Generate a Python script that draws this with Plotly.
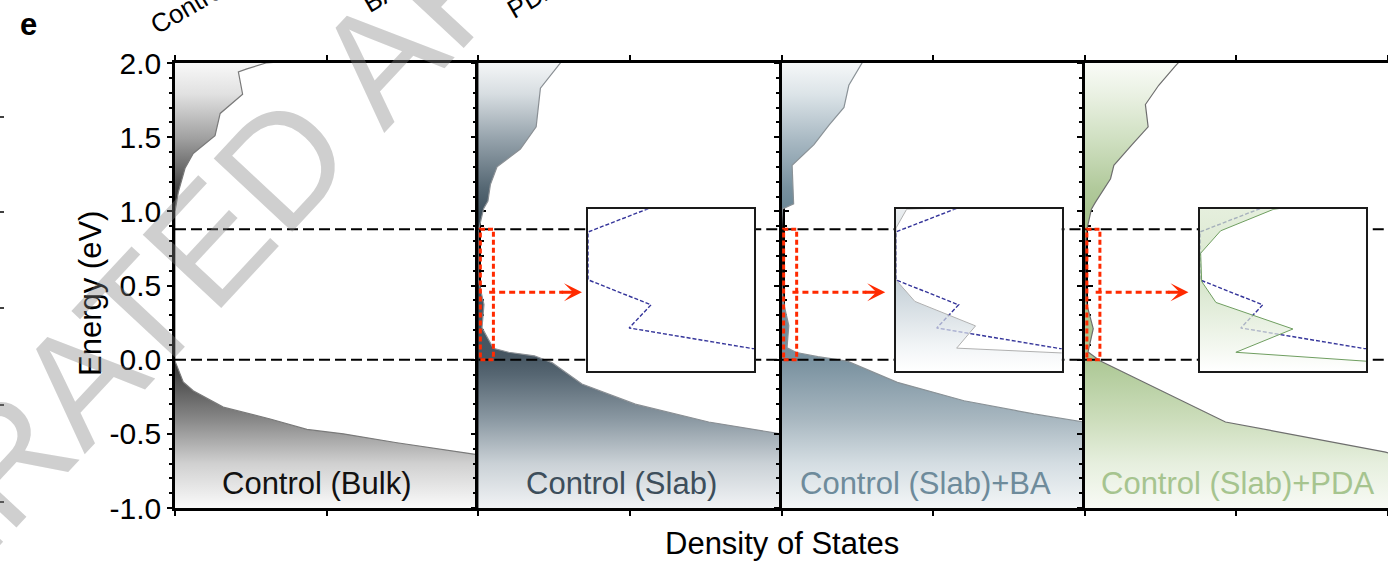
import plotly.graph_objects as go

# ---------------- data (energy in eV, DOS in arbitrary units, 10 = panel width) ----------------
E_bulk = [-1.05, -0.66, -0.64, -0.56, -0.50, -0.47, -0.40, -0.32, -0.21, -0.15, -0.04, -0.01,
          1.00, 1.13, 1.29, 1.39, 1.51, 1.66, 1.79, 1.94, 1.96, 2.00, 2.05]
dos_bulk = [13.0, 10.3, 9.96, 7.32, 5.55, 4.35, 3.14, 1.59, 0.60, 0.27, 0.06, 0.0,
            0.0, 0.11, 0.33, 0.60, 1.32, 1.49, 2.23, 2.09, 2.37, 3.0, 6.0]

E_slab = [-1.05, -0.55, -0.50, -0.42, -0.30, -0.164, -0.02, 0.026, 0.05, 0.077, 0.216, 0.372,
          0.54, 0.864, 1.02, 1.07, 1.18, 1.30, 1.42, 1.57, 1.83, 1.98, 2.05]
dos_slab = [14.0, 11.0, 9.97, 7.6, 5.18, 3.42, 2.43, 1.85, 1.0, 0.495, 0.123, 0.189,
            0.0, 0.0, 0.18, 0.32, 0.40, 0.62, 1.39, 1.91, 2.05, 2.65, 2.9]

E_ba = [-1.05, -0.50, -0.42, -0.366, -0.277, -0.153, -0.01, 0.02, 0.048, 0.08, 0.23, 0.395,
        0.54, 0.89, 1.016, 1.05, 1.31, 1.45, 1.58, 1.70, 1.85, 1.97, 2.05]
dos_ba = [15.0, 11.5, 9.97, 8.32, 6.02, 3.82, 2.17, 1.2, 0.495, 0.183, 0.24, 0.057,
          0.0, 0.0, 0.032, 0.40, 0.35, 1.07, 1.56, 2.06, 2.22, 2.55, 2.8]

E_pda = [-1.05, -0.623, -0.42, -0.008, 0.052, 0.209, 0.388, 0.53, 0.72, 0.871, 1.015,
         1.06, 1.22, 1.31, 1.45, 1.57, 1.72, 1.85, 1.98, 2.05]
dos_pda = [16.0, 9.92, 4.64, 0.5, 0.108, 0.28, 0.048, 0.005, 0.002, 0.062, 0.22,
           0.35, 0.85, 0.96, 1.56, 2.09, 2.0, 2.44, 2.99, 3.3]

panel_labels = ["Control (Bulk)", "Control (Slab)", "Control (Slab)+BA", "Control (Slab)+PDA"]
gap_levels = [0.0, 0.88]            # VBM and CBM of the bulk (dashed lines)
zoom_window = [0.0, 0.88]           # energy window magnified in the insets
y_tick_vals = [-1.0, -0.5, 0.0, 0.5, 1.0, 1.5, 2.0]
y_tick_text = ["-1.0", "-0.5", "0.0", "0.5", "1.0", "1.5", "2.0"]
top_cut_labels = ["Control", "BA", "PDA"]

# ---------------- styles ----------------
FONT = "Liberation Sans, Arial, Helvetica, sans-serif"
label_colors = ["#111111", "#3d4e5b", "#6e8b9b", "#a6c48f"]
outline_colors = ["#7a7a7a", "#8a8f94", "#8a9297", "#6e6e6e"]
scales = [
    [[0, 'rgb(250,250,250)'], [0.1, 'rgb(208,208,208)'], [0.2, 'rgb(135,135,135)'],
     [0.3, 'rgb(72,72,72)'], [0.34, 'rgb(52,52,52)'], [0.66, 'rgb(42,42,42)'],
     [0.72, 'rgb(72,72,72)'], [0.83, 'rgb(160,160,160)'], [0.93, 'rgb(225,225,225)'],
     [1, 'rgb(248,248,248)']],
    [[0, 'rgb(241,243,245)'], [0.1, 'rgb(202,209,214)'], [0.2, 'rgb(138,152,162)'],
     [0.3, 'rgb(86,102,114)'], [0.34, 'rgb(70,86,98)'], [0.66, 'rgb(62,80,93)'],
     [0.72, 'rgb(86,104,116)'], [0.83, 'rgb(150,163,172)'], [0.93, 'rgb(215,221,225)'],
     [1, 'rgb(244,246,247)']],
    [[0, 'rgb(243,246,247)'], [0.1, 'rgb(212,221,226)'], [0.2, 'rgb(168,183,192)'],
     [0.3, 'rgb(132,154,167)'], [0.34, 'rgb(118,143,157)'], [0.66, 'rgb(105,133,148)'],
     [0.72, 'rgb(120,145,159)'], [0.83, 'rgb(170,186,196)'], [0.93, 'rgb(220,228,232)'],
     [1, 'rgb(245,247,248)']],
    [[0, 'rgb(248,250,245)'], [0.1, 'rgb(230,239,222)'], [0.2, 'rgb(204,221,187)'],
     [0.3, 'rgb(180,205,158)'], [0.34, 'rgb(172,199,148)'], [0.66, 'rgb(166,194,142)'],
     [0.72, 'rgb(178,202,156)'], [0.83, 'rgb(208,224,194)'], [0.93, 'rgb(234,241,227)'],
     [1, 'rgb(249,251,247)']],
]
inset_scales = {
    2: [[0, 'rgba(255,255,255,0.7)'], [0.15, 'rgba(236,240,243,0.7)'], [0.55, 'rgba(172,188,198,0.7)'],
        [0.8, 'rgba(200,210,216,0.7)'], [1, 'rgba(226,231,234,0.7)']],
    3: [[0, 'rgba(255,255,255,0.7)'], [0.15, 'rgba(238,244,233,0.7)'], [0.55, 'rgba(198,219,182,0.7)'],
        [1, 'rgba(218,232,206,0.7)']],
}
inset_outline = {2: "#b0b0b0", 3: "#6f9e60"}
RED = "#ff2a00"
BLUE = "#34349a"

# geometry (pixels of the 1388x561 page)
W, H = 1388, 561
L, R, T, B = 175, 0, 63, 53
PW, PH = W - L - R, H - T - B
def px(x):
    return (x - L) / PW
def py(y):
    return (H - B - y) / PH

curves = [(E_bulk, dos_bulk), (E_slab, dos_slab), (E_ba, dos_ba), (E_pda, dos_pda)]
label_x = [4.67, 4.73, 4.75, 5.03]
label_y = -0.836
XMAX = 10
inset_pix = [(588.3, 754.3), (896.0, 1061.7), (1200.0, 1366.0)]
inset_ytop, inset_ybot = 209.3, 370.7
inset_range_y = [(360 - inset_ybot) / 148.3, (360 - inset_ytop) / 148.3]
INSET_XMAX = 0.5
arrow_y = 0.455
arrow_x0, arrow_x1, arrow_tip = 0.36, 2.8, 3.42
edge_tick_y = [117, 212, 308, 405, 502]   # tick stubs of the neighbouring figure at the left page edge

fig = go.Figure()
layout = dict(
    width=W, height=H, margin=dict(l=L, r=R, t=T, b=B, autoexpand=False),
    paper_bgcolor="white", plot_bgcolor="white", showlegend=False, hovermode=False,
    font=dict(family=FONT, size=30, color="black"),
)

def ax_names(i):
    s = "" if i == 0 else str(i + 1)
    return "x" + s, "y" + s, "xaxis" + s, "yaxis" + s

for i, (E, dos) in enumerate(curves):
    xa, ya, xk, yk = ax_names(i)
    fig.add_trace(go.Scatter(
        x=dos, y=E, mode="lines", fill="tozerox",
        fillgradient=dict(type="vertical", colorscale=scales[i], start=-1.0, stop=2.0),
        line=dict(color=outline_colors[i], width=1.2), xaxis=xa, yaxis=ya, hoverinfo="skip"))
    for g in gap_levels:
        fig.add_trace(go.Scatter(x=[0, XMAX], y=[g, g], mode="lines",
                                 line=dict(color="black", width=2, dash="11px,5px"),
                                 xaxis=xa, yaxis=ya, hoverinfo="skip"))
    if i > 0:
        z0, z1 = zoom_window
        fig.add_trace(go.Scatter(x=[0.07, INSET_XMAX, INSET_XMAX, 0.07, 0.07], y=[z0, z0, z1, z1, z0],
                                 mode="lines", line=dict(color=RED, width=3, dash="5px,3px"),
                                 xaxis=xa, yaxis=ya, hoverinfo="skip"))
        fig.add_trace(go.Scatter(x=[arrow_x0, arrow_x1], y=[arrow_y, arrow_y], mode="lines",
                                 line=dict(color=RED, width=3, dash="6px,4px"),
                                 xaxis=xa, yaxis=ya, hoverinfo="skip"))
    layout[xk] = dict(domain=[i * 0.25, (i + 1) * 0.25], range=[0, XMAX], anchor=ya,
                      showgrid=False, zeroline=False, showline=True, linecolor="black", linewidth=2.5,
                      mirror="ticks", ticks="outside", ticklen=5, tickwidth=2, tickcolor="black",
                      tickvals=[0, XMAX / 2, XMAX], showticklabels=False, automargin=False)
    layout[yk] = dict(domain=[0, 1], range=[-1.0, 2.0], anchor=xa, automargin=False,
                      showgrid=False, zeroline=False, showline=True, linecolor="black", linewidth=2.5,
                      mirror="ticks", ticks="outside", ticklen=5, tickwidth=2, tickcolor="black",
                      tickvals=y_tick_vals, ticktext=y_tick_text, showticklabels=(i == 0),
                      tickfont=dict(size=30, family=FONT, color="black"),
                      minor=dict(dtick=0.1, ticks="outside", ticklen=3, tickwidth=1.5, tickcolor="black",
                                 showgrid=False))

# insets (magnified gap region), using the same DOS data on a zoomed x axis
for k, (xl, xr) in enumerate(inset_pix):
    n = 5 + k
    xa, ya = "x%d" % n, "y%d" % n
    fig.add_trace(go.Scatter(x=dos_slab, y=E_slab, mode="lines",
                             line=dict(color=BLUE, width=1.4, dash="4px,2px"),
                             xaxis=xa, yaxis=ya, hoverinfo="skip"))
    if k > 0:
        E, dos = curves[k + 1]
        fig.add_trace(go.Scatter(
            x=dos, y=E, mode="lines", fill="tozerox",
            fillgradient=dict(type="vertical", colorscale=inset_scales[k + 1],
                              start=inset_range_y[0], stop=inset_range_y[1]),
            line=dict(color=inset_outline[k + 1], width=1), xaxis=xa, yaxis=ya, hoverinfo="skip"))
    layout["xaxis%d" % n] = dict(domain=[px(xl), px(xr)], range=[0, INSET_XMAX], anchor=ya,
                                 showgrid=False, zeroline=False, showline=True, mirror=True,
                                 linecolor="#1a1a1a", linewidth=1.6, ticks="", showticklabels=False)
    layout["yaxis%d" % n] = dict(domain=[py(inset_ybot), py(inset_ytop)], range=inset_range_y, anchor=xa,
                                 showgrid=False, zeroline=False, showline=True, mirror=True,
                                 linecolor="#1a1a1a", linewidth=1.6, ticks="", showticklabels=False)

C = dict(xanchor="center", yanchor="middle", showarrow=False)
annotations = []
for i in range(4):
    xa, ya, _, _ = ax_names(i)
    annotations.append(dict(text=panel_labels[i], x=label_x[i], y=label_y, xref=xa, yref=ya,
                            font=dict(size=31, color=label_colors[i], family=FONT), **C))
    if i > 0:
        annotations.append(dict(text="", x=arrow_tip, y=arrow_y, xref=xa, yref=ya,
                                ax=arrow_x1 - 0.1, ay=arrow_y, axref=xa, ayref=ya,
                                showarrow=True, arrowhead=3, arrowsize=1, arrowwidth=3,
                                arrowcolor=RED))

annotations += [
    dict(text="Energy (eV)", x=px(90), y=py(294), xref="paper", yref="paper", textangle=-90,
         font=dict(size=31, family=FONT), **C),
    dict(text="Density of States", x=0.5, y=py(543), xref="paper", yref="paper",
         font=dict(size=31, family=FONT), **C),
    dict(text="<b>e</b>", x=px(28.5), y=py(25), xref="paper", yref="paper",
         font=dict(size=31, family=FONT), **C),
]
# fragments of the neighbouring panel's rotated tick labels (cut by the page edge)
for txt, (cx, cy) in zip(top_cut_labels, [(189, 6), (380, -3), (533, -2)]):
    annotations.append(dict(text=txt, x=px(cx), y=py(cy), xref="paper", yref="paper",
                            textangle=-30, font=dict(size=26, family=FONT), **C))
# preview watermark
annotations.append(dict(text="ACCELERATED ARTICLE PREVIEW", x=px(427), y=py(8), xref="paper", yref="paper",
                        textangle=-47, font=dict(size=156, family=FONT, color="rgba(130,130,130,0.38)"), **C))

shapes = [dict(type="line", xref="paper", yref="paper", x0=px(0), x1=px(4), y0=py(yy), y1=py(yy),
               line=dict(color="black", width=1.5)) for yy in edge_tick_y]

layout["annotations"] = annotations
layout["shapes"] = shapes
fig.update_layout(**layout)
fig.write_html(
    "out.html",
    post_script=("document.documentElement.style.overflow='hidden';"
                 "document.body.style.margin='0px';document.body.style.overflow='hidden';"),
    config={"displayModeBar": False, "responsive": False},
)
